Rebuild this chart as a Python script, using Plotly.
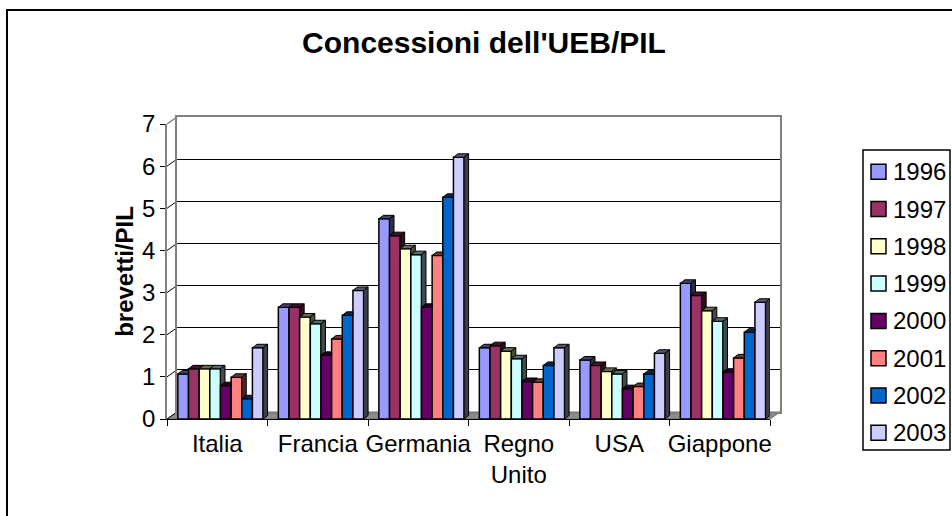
import plotly.graph_objects as go

# ---- data -------------------------------------------------------------
categories = ["Italia", "Francia", "Germania", "Regno<br>Unito", "USA", "Giappone"]
years = ["1996", "1997", "1998", "1999", "2000", "2001", "2002", "2003"]

v1996 = [1.07, 2.65, 4.75, 1.69, 1.40, 3.22]
v1997 = [1.19, 2.65, 4.35, 1.74, 1.27, 2.93]
v1998 = [1.19, 2.42, 4.04, 1.61, 1.13, 2.57]
v1999 = [1.19, 2.26, 3.90, 1.43, 1.07, 2.32]
v2000 = [0.79, 1.51, 2.65, 0.89, 0.72, 1.11]
v2001 = [0.99, 1.90, 3.88, 0.87, 0.77, 1.45]
v2002 = [0.48, 2.46, 5.26, 1.27, 1.07, 2.06]
v2003 = [1.69, 3.05, 6.21, 1.69, 1.56, 2.77]
series = [v1996, v1997, v1998, v1999, v2000, v2001, v2002, v2003]

colors = ["#9999FF", "#993366", "#FFFFCC", "#CCFFFF",
          "#660066", "#FF8080", "#0066CC", "#CCCCFF"]

y_ticks = [0, 1, 2, 3, 4, 5, 6, 7]

# ---- geometry ---------------------------------------------------------
W, H = 952, 516
ML, MR, MT, MB = 167, 172, 117, 97
PW, PH = W - ML - MR, H - MT - MB
DEPTH_X, DEPTH_Y = 10, 7          # wall depth in pixels
YMAX = 7

front_xdom = [0, (PW - DEPTH_X) / PW]
front_ydom = [0, (PH - DEPTH_Y) / PH]
back_xdom = [DEPTH_X / PW, 1]
back_ydom = [DEPTH_Y / PH, 1]

cat_px = (PW - DEPTH_X) / len(categories)
unit_px = (PH - DEPTH_Y) / YMAX
bar_dx = 4.5 / cat_px             # column depth (x) in category units
bar_dy = 3.5 / unit_px            # column depth (y) in value units
bar_w = 0.106
bar_start = 0.108

FONT = "Liberation Sans"

# legend box (pixels)
LEG_L, LEG_R, LEG_T, LEG_B = 863, 950, 150, 450
LEG_ROW0, LEG_STEP, KEY = 171.7, 37.3, 15


def xp(px):
    return (px - ML) / PW


def yp(py):
    return (H - MB - py) / PH


def yfront(v):
    return v * unit_px / PH


def darken(hexcol, f):
    h = hexcol.lstrip("#")
    r, g, b = (int(h[i:i + 2], 16) for i in (0, 2, 4))
    return "rgb(%d,%d,%d)" % (r * f, g * f, b * f)


fig = go.Figure()

# back wall subplot (carries the gridlines only)
fig.add_trace(go.Scatter(x=[None], y=[None], mode="markers", xaxis="x", yaxis="y",
                         showlegend=False, hoverinfo="skip"))

# ---- columns (front faces) ----------------------------------------------
for j, (yr, vals, col) in enumerate(zip(years, series, colors)):
    xs = [i - 0.5 + bar_start + (j + 0.5) * bar_w for i in range(len(categories))]
    fig.add_trace(go.Bar(
        x=xs, y=vals, width=bar_w, name=yr,
        marker=dict(color=col, line=dict(color="black", width=1.5)),
        xaxis="x2", yaxis="y2", hoverinfo="skip", showlegend=False,
    ))

# ---- top and side faces of each column ----------------------------------
for j, (yr, vals, col) in enumerate(zip(years, series, colors)):
    tx, ty, sx, sy = [], [], [], []
    for i, v in enumerate(vals):
        xl = i - 0.5 + bar_start + j * bar_w
        xr = xl + bar_w
        nxt = series[j + 1][i] if j + 1 < len(series) else None
        # top face, partly hidden by a taller neighbour on the right
        if nxt is not None and nxt >= v + bar_dy:
            px_ = [xl, xr, xr, xl + bar_dx, xl]
            py_ = [v, v, v + bar_dy, v + bar_dy, v]
        elif nxt is not None and nxt > v:
            xq = xr + bar_dx * (nxt - v) / bar_dy
            px_ = [xl, xr, xr, xq, xr + bar_dx, xl + bar_dx, xl]
            py_ = [v, v, nxt, nxt, v + bar_dy, v + bar_dy, v]
        else:
            px_ = [xl, xr, xr + bar_dx, xl + bar_dx, xl]
            py_ = [v, v, v + bar_dy, v + bar_dy, v]
        tx += px_ + [None]
        ty += py_ + [None]
        # right side face, only the part above the neighbour
        low = 0 if nxt is None else nxt
        if nxt is None or nxt < v:
            sx += [xr, xr + bar_dx, xr + bar_dx, xr, xr, None]
            sy += [low, low + bar_dy, v + bar_dy, v, low, None]
    fig.add_trace(go.Scatter(
        x=tx, y=ty, mode="lines", fill="toself", fillcolor=darken(col, 0.42),
        line=dict(color="black", width=1), xaxis="x2", yaxis="y2",
        showlegend=False, hoverinfo="skip"))
    if sx:
        fig.add_trace(go.Scatter(
            x=sx, y=sy, mode="lines", fill="toself", fillcolor=darken(col, 0.3),
            line=dict(color="black", width=1), xaxis="x2", yaxis="y2",
            showlegend=False, hoverinfo="skip"))

# ---- decorations: chart border, floor, side wall -------------------------
shapes = [
    dict(type="rect", xref="paper", yref="paper",
         x0=xp(7), x1=xp(1200), y0=yp(700), y1=yp(10),
         line=dict(color="black", width=2), layer="below"),
    dict(type="path", xref="paper", yref="paper",
         path="M %f,%f L %f,%f L %f,%f L %f,%f Z" % (
             0, 0, front_xdom[1], 0, 1, back_ydom[0], back_xdom[0], back_ydom[0]),
         fillcolor="#8c8c8c", line=dict(color="#6e6e6e", width=1), layer="below"),
]
for t in y_ticks:
    shapes.append(dict(
        type="line", xref="paper", yref="paper",
        x0=0, y0=yfront(t), x1=back_xdom[0], y1=yfront(t) + back_ydom[0],
        line=dict(color="#808080" if t == YMAX else "black",
                  width=1.5 if t == YMAX else 1),
        layer="below"))

# ---- legend ---------------------------------------------------------------
annotations = []
shapes.append(dict(type="rect", xref="paper", yref="paper",
                   x0=xp(LEG_L), x1=xp(LEG_R), y0=yp(LEG_B), y1=yp(LEG_T),
                   fillcolor="white", line=dict(color="black", width=1.5)))
for k, (yr, col) in enumerate(zip(years, colors)):
    cy = LEG_ROW0 + k * LEG_STEP
    shapes.append(dict(type="rect", xref="paper", yref="paper",
                       x0=xp(871), x1=xp(871 + KEY),
                       y0=yp(cy + KEY / 2), y1=yp(cy - KEY / 2),
                       fillcolor=col, line=dict(color="black", width=1.5)))
    annotations.append(dict(text=yr, xref="paper", yref="paper",
                            x=xp(891), y=yp(cy), xanchor="left", yanchor="middle",
                            showarrow=False,
                            font=dict(family=FONT, size=24, color="black")))

fig.update_layout(
    width=W, height=H,
    margin=dict(l=ML, r=MR, t=MT, b=MB, pad=0),
    paper_bgcolor="white", plot_bgcolor="rgba(0,0,0,0)",
    font=dict(family=FONT, size=24, color="black"),
    title=dict(text="Concessioni dell'UEB/PIL", x=484 / W, xanchor="center",
               y=1 - 42 / H, yanchor="middle",
               font=dict(family=FONT, size=30, weight="bold", color="black")),
    barmode="overlay",
    showlegend=False,
    shapes=shapes,
    annotations=annotations,
    # back wall
    xaxis=dict(domain=back_xdom, anchor="y", range=[-0.5, len(categories) - 0.5],
               showgrid=False, zeroline=False, showticklabels=False, ticks="",
               showline=True, linecolor="#808080", linewidth=2, mirror=True,
               fixedrange=True),
    yaxis=dict(domain=back_ydom, anchor="x", range=[0, YMAX], tickvals=y_ticks,
               showgrid=True, gridcolor="black", gridwidth=1, zeroline=False,
               showticklabels=False, ticks="", showline=True, linecolor="#808080",
               linewidth=2, mirror=True, fixedrange=True),
    # front axes carrying the columns
    xaxis2=dict(domain=front_xdom, anchor="y2", range=[-0.5, len(categories) - 0.5],
                tickmode="array", tickvals=list(range(len(categories))),
                ticktext=categories, ticks="", showgrid=False, zeroline=False,
                showline=True, linecolor="black", linewidth=1,
                ticklabelstandoff=3,
                minor=dict(tickmode="array",
                           tickvals=[i - 0.5 for i in range(len(categories) + 1)],
                           ticks="outside", ticklen=6, tickcolor="black", tickwidth=1,
                           showgrid=False),
                tickfont=dict(family=FONT, size=24, color="black"),
                fixedrange=True),
    yaxis2=dict(domain=front_ydom, anchor="x2", range=[0, YMAX], tickvals=y_ticks,
                ticks="outside", ticklen=5, tickcolor="black", tickwidth=1,
                showgrid=False, zeroline=False, showline=True,
                linecolor="#808080", linewidth=1.5,
                tickfont=dict(family=FONT, size=24, color="black"),
                title=dict(text="brevetti/PIL", standoff=2,
                           font=dict(family=FONT, size=24, weight="bold", color="black")),
                fixedrange=True),
)

fig.write_html("out.html")
